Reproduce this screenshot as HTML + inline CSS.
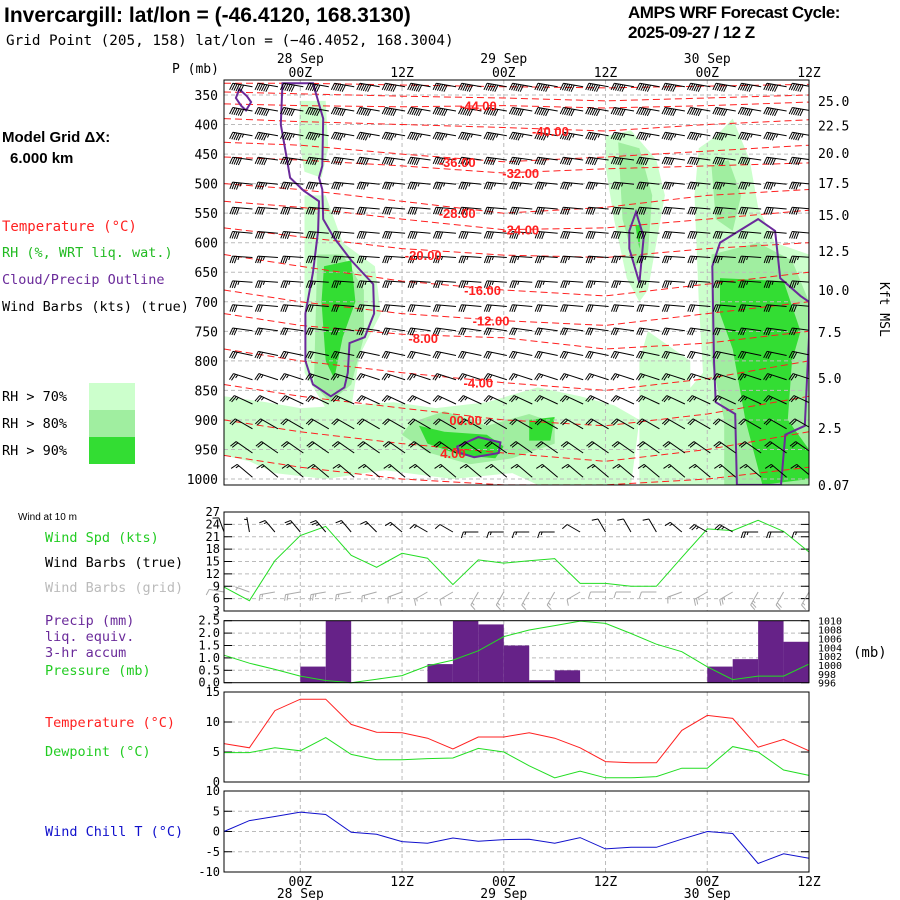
<!DOCTYPE html>
<html><head><meta charset="utf-8"><style>
html,body{margin:0;padding:0;background:#fff;}
svg{display:block;font-family:"Liberation Sans","DejaVu Sans",sans-serif;}
.t{font-family:"DejaVu Sans Mono","Liberation Mono",monospace;font-size:13.5px;}
.m{font-family:"DejaVu Sans Mono","Liberation Mono",monospace;font-size:13px;}
</style></head><body>
<svg id="c" width="900" height="900" viewBox="0 0 900 900" xmlns="http://www.w3.org/2000/svg">
<text x="4" y="22" font-size="21" font-weight="bold">Invercargill:  lat/lon = (-46.4120, 168.3130)</text>
<text x="6" y="45" class="t" style="font-size:14.3px">Grid Point (205, 158) lat/lon = (−46.4052, 168.3004)</text>
<text x="628" y="18" font-size="17" font-weight="bold" letter-spacing="-0.5">AMPS WRF Forecast Cycle:</text>
<text x="628" y="38" font-size="17" font-weight="bold" letter-spacing="-0.5">2025-09-27 / 12  Z</text>
<text x="2" y="142" font-size="15" font-weight="bold">Model Grid ΔX:</text>
<text x="10" y="163" font-size="15" font-weight="bold">6.000 km</text>
<text x="2" y="231" class="t" style="font-size:14px" fill="#ff2020">Temperature (°C)</text>
<text x="2" y="257" class="t" fill="#22bb22">RH (%, WRT liq. wat.)</text>
<text x="2" y="284" class="t" fill="#6a2a9a">Cloud/Precip Outline</text>
<text x="2" y="311" class="t">Wind Barbs (kts) (true)</text>
<text x="2" y="401" class="t" xml:space="preserve">RH &gt; 70%</text>
<text x="2" y="428" class="t" xml:space="preserve">RH &gt; 80%</text>
<text x="2" y="455" class="t" xml:space="preserve">RH &gt; 90%</text>
<rect x="89" y="383" width="46" height="27" fill="#ccffcc"/>
<rect x="89" y="410" width="46" height="27" fill="#a0eea0"/>
<rect x="89" y="437" width="46" height="27" fill="#33dd33"/>
<text x="18" y="520" font-size="10">Wind at 10 m</text>
<text x="45" y="542" class="t" fill="#22cc22">Wind Spd (kts)</text>
<text x="45" y="567" class="t">Wind Barbs (true)</text>
<text x="45" y="592" class="t" fill="#bbbbbb">Wind Barbs (grid)</text>
<text x="45" y="625" class="t" fill="#6a2a9a">Precip (mm)</text>
<text x="45" y="641" class="t" fill="#6a2a9a">liq. equiv.</text>
<text x="45" y="657" class="t" fill="#6a2a9a">3-hr accum</text>
<text x="45" y="675" class="t" fill="#22cc22">Pressure (mb)</text>
<text x="45" y="727" class="t" fill="#ff2020">Temperature (°C)</text>
<text x="45" y="756" class="t" fill="#22cc22">Dewpoint (°C)</text>
<text x="45" y="836" class="t" fill="#1010cc">Wind Chill T (°C)</text>
<text x="172" y="73" class="m">P (mb)</text>
<text x="880" y="282" class="m" transform="rotate(90 880 282)">Kft MSL</text>
<text x="853" y="657" class="m" style="font-size:14px">(mb)</text>
<g id="g"></g>
</svg>
<script>
// ---- data ----
var hours=[-9,-6,-3,0,3,6,9,12,15,18,21,24,27,30,33,36,39,42,45,48,51,54,57,60];
var windSpd=[8.8,5.5,15.2,21.3,23.5,16.5,13.6,17,15.8,9.4,15.4,14.6,15.2,15.7,9.7,9.7,9,9,16,22.9,22.5,25,22.3,17.3];
var windDir=[340,350,320,320,320,320,315,310,300,300,270,270,270,270,300,330,330,330,310,300,300,270,270,270];
var precip=[0,0,0,0.65,2.5,0,0,0,0.75,2.5,2.35,1.5,0.1,0.5,0,0,0,0,0,0.65,0.95,2.5,1.65];
var pres=[1002.2,1000.4,999.0,997.5,996.5,996,996.8,997.6,999.8,1001.1,1003.2,1006.4,1007.9,1008.9,1009.9,1009.4,1007.1,1004.7,1003,999.6,996.7,997.5,997.5,1000.2];
var temp=[6.4,5.7,11.9,13.8,13.8,9.6,8.3,8.2,7.3,5.5,7.5,7.5,8.2,7.3,5.7,3.4,3.2,3.2,8.6,11.1,10.6,5.8,7.1,5.2];
var dewp=[4.9,4.9,5.7,5.2,7.4,4.6,3.7,3.7,3.9,4,5.6,5,2.7,0.7,1.8,0.7,0.7,0.9,2.3,2.3,5.9,5,2,1.1];
var chill=[0,2.7,3.7,4.8,4.2,-0.2,-0.7,-2.5,-2.9,-1.6,-2.4,-2,-1.9,-2.9,-1.5,-4.3,-3.9,-3.9,-1.9,0,-0.5,-7.9,-5.5,-6.6];
var presTicks=[350,400,450,500,550,600,650,700,750,800,850,900,950,1000];
var kftTicks=["25.0","22.5","20.0","17.5","15.0","12.5","10.0","7.5","5.0","2.5","0.07"];
var kftPres=[360,402,448,499,553,614,680,751,829,914,1010];
var barbRowP=[336,377,419,460,501,543,584,625,667,708,749,791,832,873,915,956,997];
var barbRowSpd=[60,60,55,50,45,40,40,35,35,30,30,30,25,25,20,20,15];
var barbRowDir=[280,280,280,278,276,275,275,274,274,275,278,282,288,295,300,305,310];
var barbHours=[-8,-5,-2,1,4,7,10,13,16,19,22,25,28,31,34,37,40,43,46,49,52,55,58];
var contourHours=[-9,0,12,24,36,48,60];
var contourT=[-52,-48,-44,-40,-36,-32,-28,-24,-20,-16,-12,-8,-4,0,4,8];
var contourP=[[330,330,333,336,338,335,332],[345,348,352,355,360,355,350],[365,368,370,368,372,368,362],[390,395,400,405,411,400,392],[430,435,450,463,455,445,435],[455,460,470,482,475,470,465],[500,510,530,550,540,520,510],[530,540,560,578,575,560,545],[575,590,610,621,625,610,600],[620,640,665,680,690,670,650],[680,700,720,732,740,720,700],[720,740,755,761,780,770,750],[780,800,820,837,850,830,800],[840,860,880,900,910,890,860],[900,920,940,956,970,950,920],[960,980,1000,1010,1010,1000,980]];
var labelT=["-44.00","-40.00","-36.00","-32.00","-28.00","-24.00","-20.00","-16.00","-12.00","-8.00","-4.00","00.00","4.00"];
var labelH=[21,29.5,18.5,26,18.5,26,14.5,21.5,22.5,14.5,21,19.5,18];
var labelP=[368,411,463,482,550,578,621,680,732,761,837,900,956];
var rh70=[
 [[0,360],[3,360],[3.3,440],[2.5,490],[0.5,480],[-0.2,420]],
 [[0.5,520],[3,520],[5,600],[8.8,640],[9.5,720],[7,790],[6,880],[3,880],[0.5,820]],
 [[-9,860],[-4,870],[0,880],[6,875],[11,870],[16,880],[22,870],[28,845],[33,860],[37,875],[40,900],[39,1010],[28,1010],[25,990],[18,1000],[10,985],[3,1000],[-3,990],[-6,970],[-9,960]],
 [[36,420],[39,410],[42,460],[43,520],[42,600],[41,680],[40,700],[38.5,660],[37,560],[36,470]],
 [[47,440],[49,420],[51,390],[53,460],[54,540],[56,600],[60,620],[60,1010],[44,1010],[44,880],[47.5,820],[47,700],[46.5,520]],
 [[41,750],[46,800],[46,1010],[40,1010],[40,800]]
];
var rh80=[
 [[2,620],[5,620],[7.5,680],[7.5,760],[6,840],[3.5,870],[1.6,840]],
 [[13,905],[17,885],[22,910],[27,890],[30,905],[30,940],[25,965],[20,975],[15,955],[12,925]],
 [[37.5,430],[40,440],[41.5,520],[41,620],[39.5,640],[38,560]],
 [[48.5,470],[50.5,460],[52,520],[51,580],[49,560]],
 [[48.5,620],[54,600],[58,630],[60,700],[60,1010],[50,1010],[50,900],[48.5,800]]
];
var rh90=[
 [[2.8,640],[6,630],[6.5,700],[5,760],[4,830],[3,800],[2.5,700]],
 [[14,910],[17,920],[22,925],[24,945],[23,965],[19,960],[15,940]],
 [[27,900],[30,895],[29.5,935],[27,935]],
 [[39.5,570],[40.2,570],[40,610]],
 [[49.5,660],[57,665],[59,750],[58,800],[57.5,900],[60,950],[60,1000],[54.5,1010],[52.5,900],[51,780],[49.5,720]]
];
var cloud=[
 [[-7.2,340],[-6.3,352],[-5.8,362],[-6.4,376],[-7,368],[-7.6,355]],
 [[-2.1,330],[-1.2,330],[1.5,330],[2.7,390],[2.6,470],[2.2,490],[2.6,510],[2.7,560],[3.9,590],[6,630],[8.6,670],[8.7,720],[7.6,760],[5.8,770],[5.6,820],[5.2,845],[3.6,860],[1.5,840],[0.6,800],[0.6,720],[1.5,650],[2.1,580],[2.2,530],[0.4,512],[-1.2,490],[-1.8,440],[-2.3,400]],
 [[39.6,548],[40.5,590],[40,668],[38.8,610],[38.8,580]],
 [[18.5,945],[21,929],[23.6,938],[23.4,956],[20.5,963],[18.7,955]],
 [[48.6,640],[49.5,600],[54,560],[56,580],[56.6,660],[59,690],[60,700],[60,760],[59.5,910],[57.2,925],[56.7,1010],[51.5,1010],[51.3,890],[49,870],[48.8,800]]
];
// ---- axes ----
var X0=224,X1=809;
function xh(h){return X0+(h+9)*(X1-X0)/69;}
function yp(p){return 95+(p-350)*0.5908;}
function yw(v){return 611-(v-3)*99/24;}
function ypr(v){return 682.7-v*62/2.5;}
function ypres(v){return 682.7-(v-996)*62/14;}
function yt(v){return 782-v*6;}
function yc(v){return 831.5-v*4.05;}
var NS="http://www.w3.org/2000/svg";
var G=document.getElementById('g');
function mk(tag,attrs,name,parent){var e=document.createElementNS(NS,tag);for(var k in attrs)e.setAttribute(k,attrs[k]);


(parent||G).appendChild(e);return e;}
function txt(x,y,s,name,extra){var e=mk('text',Object.assign({x:x,y:y},extra||{}),name);e.textContent=s;return e;}
function poly(pts,fx,fy){return pts.map(function(q){return fx(q[0]).toFixed(1)+','+fy(q[1]).toFixed(1);}).join(' ');}
var mono={'font-family':'DejaVu Sans Mono, Liberation Mono, monospace','font-size':'13'};
var defs=mk('defs',{},'defs');
var cp=mk('clipPath',{id:'cm'},'main-clip',defs);mk('rect',{x:X0,y:80,width:X1-X0,height:405},'clip-rect',cp);
var mg=mk('g',{'clip-path':'url(#cm)'},'main-plot-area');
rh70.forEach(function(r){mk('polygon',{points:poly(r,xh,yp),fill:'#ccffcc'},'rh70-area',mg);});
rh80.forEach(function(r){mk('polygon',{points:poly(r,xh,yp),fill:'#a0eea0'},'rh80-area',mg);});
rh90.forEach(function(r){mk('polygon',{points:poly(r,xh,yp),fill:'#33dd33'},'rh90-area',mg);});
presTicks.forEach(function(p){mk('line',{x1:X0,x2:X1,y1:yp(p),y2:yp(p),stroke:'#bbb','stroke-dasharray':'4,3'},'p-gridline',mg);});
[0,12,24,36,48].forEach(function(h){mk('line',{x1:xh(h),x2:xh(h),y1:80,y2:485,stroke:'#bbb','stroke-dasharray':'4,3'},'time-gridline',mg);});
contourP.forEach(function(ps,i){var d='';contourHours.forEach(function(h,j){d+=(j?' L':'M')+xh(h).toFixed(1)+','+yp(ps[j]).toFixed(1);});
 mk('path',{d:d,fill:'none',stroke:'#ff2020','stroke-width':'1','stroke-dasharray':'7,4'},'temp-contour-'+contourT[i],mg);});
cloud.forEach(function(r){mk('polygon',{points:poly(r,xh,yp),fill:'none',stroke:'#6a2a9a','stroke-width':'2'},'cloud-outline',mg);});
function barb(x,y,spd,dir,col,L,parent,tick,sp){
 var r=dir*Math.PI/180,ux=Math.sin(r),uy=-Math.cos(r);
 var ex=x+ux*L,ey=y+uy*L,px=uy,py=-ux;
 if(py<0){px=-px;py=-py;}
 var g=mk('g',{stroke:col,fill:col,'stroke-width':'1'},'wind-barb',parent);
 mk('line',{x1:x,y1:y,x2:ex,y2:ey},'barb-staff',g);
 var s=Math.round(spd/5)*5,pos=0;
 while(s>=10){var bx=ex-ux*pos,by=ey-uy*pos;mk('line',{x1:bx,y1:by,x2:bx+px*tick+ux*2,y2:by+py*tick+uy*2},'barb-tick',g);pos+=sp;s-=10;}
 if(s>=5){if(pos===0)pos=sp;var bx=ex-ux*pos,by=ey-uy*pos;mk('line',{x1:bx,y1:by,x2:bx+px*tick/2+ux,y2:by+py*tick/2+uy},'barb-half',g);}
}
barbRowP.forEach(function(p,i){barbHours.forEach(function(h){barb(xh(h)+20,yp(p),barbRowSpd[i],barbRowDir[i],'#000',20,mg,7,2.2);});});
labelT.forEach(function(s,i){var t=mk('text',{x:xh(labelH[i]),y:yp(labelP[i])+5,'text-anchor':'middle',fill:'#ff2020','font-size':'13','font-weight':'bold'},'contour-label',mg);t.textContent=s;});
mk('rect',{x:X0,y:80,width:X1-X0,height:405,fill:'none',stroke:'#000'},'main-frame');
presTicks.forEach(function(p){txt(218,yp(p)+5,String(p),'p-tick-label',Object.assign({'text-anchor':'end'},mono));});
kftTicks.forEach(function(s,i){txt(818,yp(kftPres[i])+5,s,'kft-tick-label',mono);});
var tl=[[0,'00Z','28 Sep'],[12,'12Z',''],[24,'00Z','29 Sep'],[36,'12Z',''],[48,'00Z','30 Sep'],[60,'12Z','']];
tl.forEach(function(t){txt(xh(t[0]),77,t[1],'top-time-label',Object.assign({'text-anchor':'middle'},mono));if(t[2])txt(xh(t[0]),63,t[2],'top-date-label',Object.assign({'text-anchor':'middle'},mono));
 txt(xh(t[0]),886,t[1],'bottom-time-label',Object.assign({'text-anchor':'middle'},mono));if(t[2])txt(xh(t[0]),898,t[2],'bottom-date-label',Object.assign({'text-anchor':'middle'},mono));});
function panel(y0,y1,ticks,fy,labels,name){
 ticks.forEach(function(v,i){var y=fy(v);
  if(y>y0+1&&y<y1-1)mk('line',{x1:X0,x2:X1,y1:y,y2:y,stroke:'#bbb','stroke-dasharray':'4,3'},name+'-gridline');
  mk('line',{x1:X0,x2:X0+8,y1:y,y2:y,stroke:'#000'},name+'-tick');mk('line',{x1:X1-8,x2:X1,y1:y,y2:y,stroke:'#000'},name+'-tick');
  txt(X0-4,y+4,labels[i],name+'-tick-label',Object.assign({'text-anchor':'end'},mono,{'font-size':'12'}));});
 [0,12,24,36,48].forEach(function(h){mk('line',{x1:xh(h),x2:xh(h),y1:y0,y2:y1,stroke:'#bbb','stroke-dasharray':'4,3'},name+'-time-gridline');});
}
function line(vals,fy,col,name){mk('polyline',{points:vals.map(function(v,i){return xh(hours[i]).toFixed(1)+','+fy(v).toFixed(1);}).join(' '),fill:'none',stroke:col,'stroke-width':'1'},name);}
var wt=[27,24,21,18,15,12,9,6,3];
panel(512,611,wt,yw,wt.map(String),'wind');
line(windSpd,yw,'#22dd22','wind-speed-line');
hours.forEach(function(h,i){barb(xh(h),532,windSpd[i],windDir[i],'#000',15,undefined,6,2.5);barb(xh(h),592,windSpd[i],windDir[i]-60,'#aaa',15,undefined,6,2.5);});
mk('rect',{x:X0,y:512,width:X1-X0,height:99,fill:'none',stroke:'#000'},'wind-frame');
var pt=[0,0.5,1,1.5,2,2.5];
panel(620.7,682.7,pt,ypr,['0.0','0.5','1.0','1.5','2.0','2.5'],'precip');
precip.forEach(function(v,i){if(v>0)mk('rect',{x:xh(hours[i]),y:ypr(v),width:xh(hours[i+1])-xh(hours[i]),height:682.7-ypr(v),fill:'#662288'},'precip-bar');});
line(pres,ypres,'#22dd22','pressure-line');
[996,998,1000,1002,1004,1006,1008,1010].forEach(function(v){txt(X1+9,ypres(v)+4,String(v),'pressure-tick-label',Object.assign({},mono,{'font-size':'10'}));});
mk('rect',{x:X0,y:620.7,width:X1-X0,height:62,fill:'none',stroke:'#000'},'precip-frame');
var tt=[0,5,10,15];
panel(692,782,tt,yt,tt.map(String),'temp');
line(temp,yt,'#ff2020','temperature-line');line(dewp,yt,'#22dd22','dewpoint-line');
mk('rect',{x:X0,y:692,width:X1-X0,height:90,fill:'none',stroke:'#000'},'temp-frame');
var ct=[10,5,0,-5,-10];
panel(791,872,ct,yc,ct.map(String),'chill');
line(chill,yc,'#1010cc','wind-chill-line');
mk('rect',{x:X0,y:791,width:X1-X0,height:81,fill:'none',stroke:'#000'},'chill-frame');
</script>
</body></html>
